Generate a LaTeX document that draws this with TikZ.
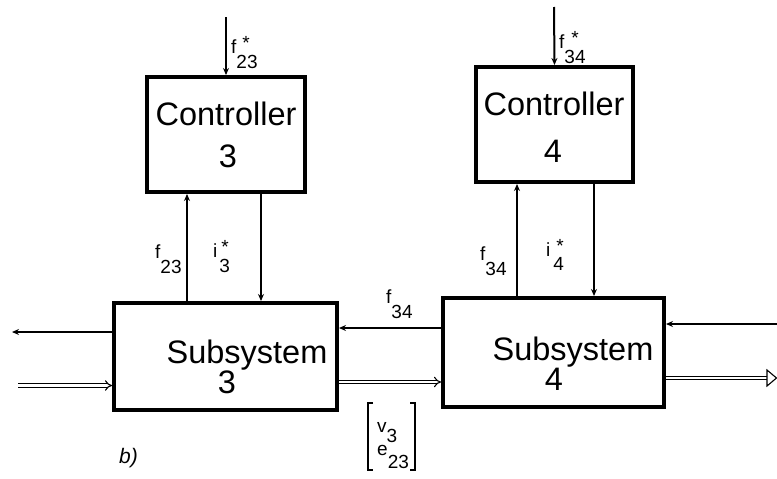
\documentclass[tikz,border=0pt]{standalone}
\usepackage{fontspec}
\setmainfont{Liberation Sans}
\usetikzlibrary{arrows.meta}
\newcommand{\lowsub}[2]{\raisebox{-#1}{#2}}
\newcommand{\upstar}[1]{\rlap{\hspace{#1}\raisebox{4pt}{*}}}
\begin{document}
\begin{tikzpicture}[x=1pt,y=-1pt,
  blk/.style={draw, line width=4pt, inner sep=0pt},
  maintxt/.style={font=\fontsize{32.5}{38}\selectfont, inner sep=0pt, anchor=base},
  lab/.style={font=\fontsize{19}{22}\selectfont, inner sep=0pt, anchor=base west},
  arr/.style={line width=2pt, -{Stealth[length=7pt,width=6pt]}},
  dbl/.style={double, double distance=2.4pt, line width=1.1pt},
  dblarr/.style={dbl, -{Implies[length=5pt]}}]
\useasboundingbox (0,0) rectangle (777,479);

% boxes
\node[blk, minimum width=158pt, minimum height=115pt] (c3) at (226,134.5) {};
\node[blk, minimum width=157pt, minimum height=115pt] (c4) at (554.5,124.5) {};
\node[blk, minimum width=223pt, minimum height=107pt] (s3) at (225.5,356.5) {};
\node[blk, minimum width=221pt, minimum height=109pt] (s4) at (553.5,352.5) {};

% box texts
\node[maintxt] (c3a) at (226,125.5) {Controller};
\node[maintxt] (c3b) at (228,167) {3};
\node[maintxt] (c4a) at (554,115) {Controller};
\node[maintxt] (c4b) at (553,162) {4};
\node[maintxt] (s3a) at (247,363) {Subsystem};
\node[maintxt] (s3b) at (227,393) {3};
\node[maintxt] (s4a) at (573,360) {Subsystem};
\node[maintxt] (s4b) at (554,390) {4};

% free ends
\coordinate (in3) at (226,17);
\coordinate (in4) at (554,7);
\coordinate (outL) at (12,332);
\coordinate (dinL) at (18,385.5);
\coordinate (inR) at (777,324);
\coordinate (tipR) at (767,378);

% controller inputs
\draw[arr] (in3) -- (c3.north);
\draw[arr] (in4) -- (c4.north);

% controller <-> subsystem
\draw[arr] (s3.north -| 187,0) -- (c3.south -| 187,0);
\draw[arr] (c3.south -| 261,0) -- (s3.north -| 261,0);
\draw[arr] (s4.north -| 517,0) -- (c4.south -| 517,0);
\draw[arr] (c4.south -| 594,0) -- (s4.north -| 594,0);

% horizontal signals
\draw[arr] (s3.west |- outL) -- (outL);
\draw[arr] (s4.west |- 0,328) -- (s3.east |- 0,328);
\draw[arr] (inR) -- (s4.east |- inR);

% double flows
\draw[dblarr] (dinL) -- (s3.west |- dinL);
\draw[dblarr] (s3.east |- 0,382) -- (s4.west |- 0,382);
\draw[dbl] (s4.east |- tipR) -- (tipR);
\draw[line width=1.1pt, fill=white] ([yshift=-8pt]tipR) -- ([xshift=9.5pt]tipR) -- ([yshift=8pt]tipR) -- cycle;

% labels
\node[lab] (lf23s) at (231,53) {f\upstar{6pt}\lowsub{15pt}{23}};
\node[lab] (lf34s) at (559,48) {f\upstar{7pt}\lowsub{15pt}{34}};
\node[lab] (lf23) at (155,258) {f\lowsub{15pt}{23}};
\node[lab] (li3) at (213,257) {i\upstar{4pt}\lowsub{15pt}{\hspace{2pt}3}};
\node[lab] (lf34) at (480,260) {f\lowsub{15pt}{34}};
\node[lab] (li4) at (546,256) {i\upstar{6pt}\lowsub{14pt}{\hspace{3pt}4}};
\node[lab] (lf34h) at (386,303) {f\lowsub{15pt}{34}};

% state vector
\draw[line width=1.3pt] (373,403) -- (368,403) -- (368,470) -- (373,470);
\draw[line width=1.3pt] (410,403) -- (415,403) -- (415,470) -- (410,470);
\node[lab] (lv3) at (377,432) {v\lowsub{10pt}{3}};
\node[lab] (le23) at (377,455) {e\lowsub{13pt}{23}};

% panel tag
\node[font=\fontsize{21}{24}\selectfont\itshape, inner sep=0pt, anchor=base west] (tagb) at (119,463) {b)};
\end{tikzpicture}
\end{document}
